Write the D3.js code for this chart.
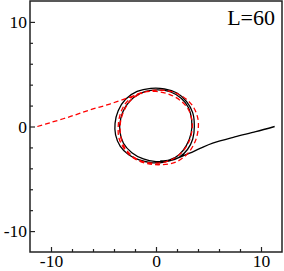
<!DOCTYPE html>
<html>
<head>
<meta charset="utf-8">
<script src="https://cdn.jsdelivr.net/npm/d3@7"></script>
<style>
  body { margin: 0; background: #fff; }
  text { font-family: "Liberation Serif", "Times New Roman", Times, serif; }
</style>
</head>
<body>
<div id="chart"></div>
<script>
var svgWidth = 284;
var svgHeight = 271;
var serif = "'Liberation Serif', 'Times New Roman', Times, serif";

// plot frame in pixels
var frame = { left: 30, right: 282, top: 1, bottom: 252 };

// axis values
var xDomain = [-12, 12];
var yDomain = [-12, 12];
var majorTicks = [-10, 0, 10];
var minorTicks = [-8, -6, -4, -2, 2, 4, 6, 8];
var panelLabel = "L=60";

// black solid trajectory, coming in from the right
var blackX = [11.3, 9.5, 7.5, 5.4, 4.2, 3.2, 2.3, 1.5,
  0.5, -0.5, -1.6, -2.6, -3.4, -3.85, -3.9, -3.6, -2.9, -1.8, -0.5, 0.8, 2.0, 2.9, 3.5, 3.65, 3.5, 3.0, 2.2, 1.2,
  0.0, -1.2, -2.3, -3.1, -3.45, -3.35, -2.9, -2.1, -1.0, 0.2, 1.4, 2.4, 3.1, 3.4, 3.35, 2.9, 2.2, 1.3, 0.4];
var blackY = [0.0, -0.5, -1.0, -1.6, -2.1, -2.55, -2.92, -3.2,
  -3.45, -3.45, -3.2, -2.7, -1.9, -0.8, 0.3, 1.5, 2.6, 3.35, 3.65, 3.6, 3.2, 2.4, 1.3, 0.0, -1.2, -2.2, -2.95, -3.3,
  -3.35, -3.1, -2.5, -1.6, -0.4, 0.8, 1.9, 2.8, 3.35, 3.5, 3.3, 2.7, 1.8, 0.6, -0.6, -1.8, -2.7, -3.2, -3.3];

// red dashed trajectory, coming in from the left
var redX = [-11.3, -10.1, -8.2, -6.3, -4.4, -2.5, -1.4,
  -0.3, 0.8, 1.9, 2.9, 3.6, 4.0, 4.0, 3.7, 3.0, 1.9, 0.5, -0.8, -2.0, -2.9, -3.5, -3.6, -3.4, -2.9, -2.1, -1.1,
  0.0, 1.2, 2.3, 3.1, 3.45, 3.35, 2.9, 2.1, 1.0, -0.2, -1.4, -2.4, -3.1, -3.4, -3.35, -2.9, -2.2, -1.3];
var redY = [0.0, 0.36, 0.94, 1.58, 2.15, 2.8, 3.2,
  3.45, 3.45, 3.2, 2.6, 1.8, 0.7, -0.4, -1.5, -2.6, -3.4, -3.65, -3.55, -3.1, -2.3, -1.2, 0.0, 1.2, 2.2, 2.95, 3.3,
  3.35, 3.1, 2.5, 1.6, 0.4, -0.8, -1.9, -2.8, -3.35, -3.5, -3.3, -2.7, -1.8, -0.6, 0.6, 1.8, 2.7, 3.2];

var svg = d3
  .select("#chart")
  .append("svg")
  .attr("width", svgWidth)
  .attr("height", svgHeight);

var xScale = d3.scaleLinear().domain(xDomain).range([frame.left, frame.right]);
var yScale = d3.scaleLinear().domain(yDomain).range([frame.bottom, frame.top]);

// Minor ticks
svg.append("g")
  .attr("transform", `translate(0, ${frame.bottom})`)
  .call(d3.axisBottom(xScale).tickValues(minorTicks).tickSize(-3).tickFormat(""));

svg.append("g")
  .attr("transform", `translate(${frame.left}, 0)`)
  .call(d3.axisLeft(yScale).tickValues(minorTicks).tickSize(-3).tickFormat(""));

// Major ticks with labels
svg.append("g")
  .attr("class", "x-axis")
  .attr("transform", `translate(0, ${frame.bottom})`)
  .call(d3.axisBottom(xScale).tickValues(majorTicks).tickSize(-5).tickPadding(3)
    .tickFormat(d => String(d)));

svg.append("g")
  .attr("class", "y-axis")
  .attr("transform", `translate(${frame.left}, 0)`)
  .call(d3.axisLeft(yScale).tickValues(majorTicks).tickSize(-5).tickPadding(3)
    .tickFormat(d => String(d)));

svg.selectAll("g").attr("font-family", serif);
svg.selectAll(".domain").remove();
svg.selectAll(".tick line").attr("stroke", "#222").attr("stroke-width", 1.2);
svg.selectAll(".tick text")
  .attr("fill", "#000")
  .style("font-family", serif)
  .style("font-size", "17.5px");

// Frame
svg.append("rect")
  .attr("x", frame.left)
  .attr("y", frame.top)
  .attr("width", frame.right - frame.left)
  .attr("height", frame.bottom - frame.top)
  .attr("fill", "none")
  .attr("stroke", "#222")
  .attr("stroke-width", 1.5);

var line = d3.line()
  .x(d => xScale(d[0]))
  .y(d => yScale(d[1]))
  .curve(d3.curveCatmullRom.alpha(0.5));

var blackData = blackX.map((v, i) => [v, blackY[i]]);
var redData = redX.map((v, i) => [v, redY[i]]);

svg.append("path")
  .datum(blackData)
  .attr("d", line)
  .attr("fill", "none")
  .attr("stroke", "#000")
  .attr("stroke-width", 1.3);

svg.append("path")
  .datum(redData)
  .attr("d", line)
  .attr("fill", "none")
  .attr("stroke", "#ff0000")
  .attr("stroke-width", 1.3)
  .attr("stroke-dasharray", "5,3");

// Panel label
svg.append("text")
  .attr("x", 275)
  .attr("y", 25)
  .attr("text-anchor", "end")
  .style("font-family", serif)
  .style("font-size", "22px")
  .attr("fill", "#000")
  .text(panelLabel);
</script>
</body>
</html>
